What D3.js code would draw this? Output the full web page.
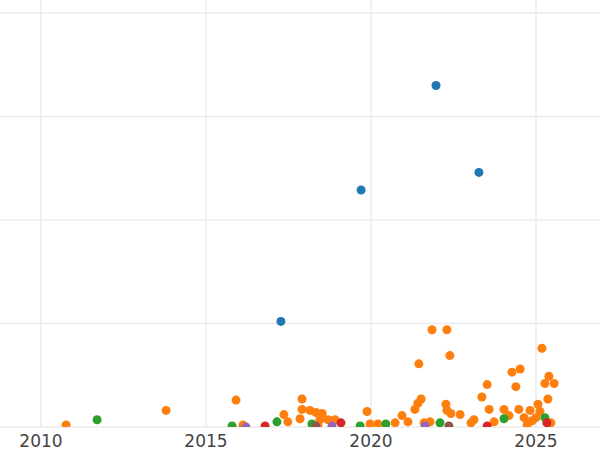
<!DOCTYPE html>
<html>
<head>
<meta charset="utf-8">
<script src="https://cdn.jsdelivr.net/npm/d3@7"></script>
<style>body{margin:0;background:#fff;font-family:"DejaVu Sans",sans-serif;}</style>
</head>
<body>
<script>
// data: [year, value]
const blue = [[2021.97,330],[2019.70,229],[2023.27,246],[2017.27,102]];
const orange = [[2010.76,2],[2013.79,16],[2015.91,26],[2016.12,2],[2017.36,12],[2017.48,5],[2017.91,27],[2017.91,17],[2017.85,8],[2018.15,16],[2018.33,14],[2018.52,13],[2018.45,7],[2018.70,7],[2018.91,7],[2018.39,2],[2019.88,15],[2019.97,3],[2020.21,3],[2020.73,4],[2020.94,11],[2021.12,5],[2021.33,17],[2021.42,23],[2021.52,27],[2021.45,61],[2021.85,94],[2022.30,94],[2022.39,69],[2022.27,22],[2022.30,16],[2022.42,13],[2021.79,5],[2021.61,4],[2022.70,12],[2023.03,4],[2023.12,7],[2023.36,29],[2023.52,41],[2023.58,17],[2023.73,5],[2024.03,17],[2024.18,11],[2024.27,53],[2024.39,39],[2024.52,56],[2024.48,17],[2024.64,9],[2024.82,16],[2024.88,6],[2025.06,22],[2025.12,15],[2025.18,76],[2025.27,42],[2025.39,49],[2025.36,27],[2025.55,42],[2025.45,4],[2025.00,9],[2024.73,2]];
const green = [[2011.70,7],[2015.79,1],[2017.15,5],[2018.21,3],[2019.67,1],[2020.45,3],[2022.09,4],[2024.03,8],[2025.27,9]];
const red = [[2016.79,1],[2019.09,4],[2023.52,1],[2025.33,4]];
const purple = [[2016.21,0],[2018.82,1],[2021.64,1]];
const brown = [[2018.33,1],[2022.36,1]];
const xTicks = [2010, 2015, 2020, 2025];
const yTicks = [0, 100, 200, 300, 400];

const series = [
    {pts: blue, color: '#1f77b4'},
    {pts: orange, color: '#ff7f0e'},
    {pts: green, color: '#2ca02c'},
    {pts: red, color: '#d62728'},
    {pts: purple, color: '#9467bd'},
    {pts: brown, color: '#8c564b'}
];

const W = 600, H = 450, plotH = 427;
const x = d3.scaleLinear().domain([2010 - 41/33, 2010 + 559/33]).range([0, W]);
const y = d3.scaleLinear().domain([0, 100]).range([plotH, plotH - 103.5]);

const svg = d3.select('body').append('svg').attr('width', W).attr('height', H);
svg.append('defs').append('clipPath').attr('id', 'clip')
    .append('rect').attr('x', 0).attr('y', 0).attr('width', W).attr('height', plotH);

svg.append('g').selectAll('line.v').data(xTicks).enter().append('line')
    .attr('x1', d => x(d)).attr('x2', d => x(d)).attr('y1', 0).attr('y2', plotH)
    .attr('stroke', '#ebebeb').attr('stroke-width', 1.5);
svg.append('g').selectAll('line.h').data(yTicks).enter().append('line')
    .attr('x1', 0).attr('x2', W).attr('y1', d => y(d)).attr('y2', d => y(d))
    .attr('stroke', '#ebebeb').attr('stroke-width', 1.5);

const pg = svg.append('g').attr('clip-path', 'url(#clip)');
series.forEach(s => {
    pg.selectAll(null).data(s.pts).enter().append('circle')
        .attr('cx', d => x(d[0])).attr('cy', d => y(d[1]))
        .attr('r', 4.5).attr('fill', s.color);
});

svg.append('g').selectAll('text').data(xTicks).enter().append('text')
    .attr('x', d => x(d)).attr('y', 447).attr('text-anchor', 'middle')
    .attr('font-size', 17).attr('fill', '#444').text(d => d);
</script>
</body>
</html>
